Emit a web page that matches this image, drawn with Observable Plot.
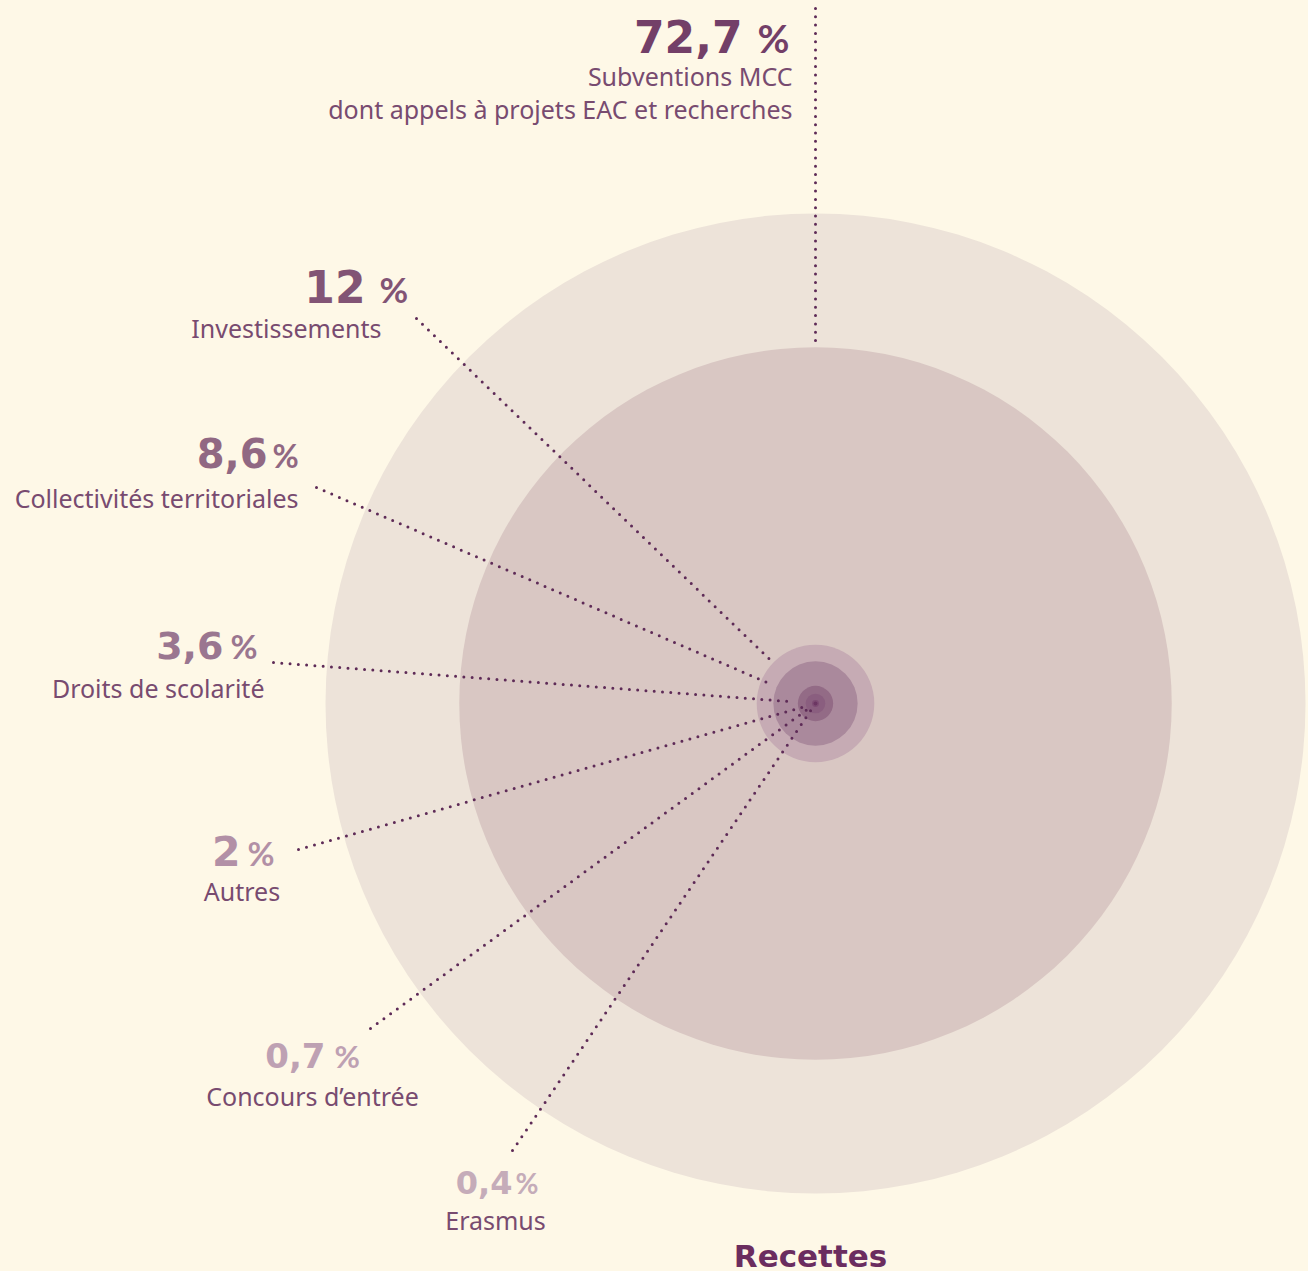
<!DOCTYPE html>
<html><head><meta charset="utf-8">
<script src="https://cdn.jsdelivr.net/npm/d3@7"></script>
<script src="https://cdn.jsdelivr.net/npm/@observablehq/plot@0.6"></script>
<style>html,body{margin:0;padding:0;background:#fef8e7;} #chart svg{display:block;}</style>
</head><body><div id="chart"></div>
<script>
// ---- data ----
const categories = ["Subventions MCC\ndont appels à projets EAC et recherches", "Investissements", "Collectivités territoriales", "Droits de scolarité", "Autres", "Concours d’entrée", "Erasmus"];
const shares = [72.7, 12, 8.6, 3.6, 2, 0.7, 0.4];
const shareLabels = ["72,7", "12", "8,6", "3,6", "2", "0,7", "0,4"];
const totalName = "Recettes";

// ---- styles / layout ----
const totalFill = "#ede3d9";
const circleFills = ["#d9c7c3", "#c6abb4", "#aa899c", "#936b86", "#8a5e7f", "#7e4c74", "#6c3663"];
const valueColors = ["#733f68", "#825475", "#916883", "#9a7690", "#b290a6", "#bea1b3", "#c5acb9"];
const valueSizes = [44, 44, 40, 38, 41, 34, 32];
const pctSizes = [39, 35, 32, 33, 33, 31, 28];
const nameColor = "#784b70";
const leaderColor = "#5e2b57";
const layout = [
  {lx: 0, ly: -695, ex: -73, px: -58, sy: -651, nx: -23, ny: -585, na: "end"},
  {lx: -399, ly: -385, ex: -450, px: -436, sy: -401, nx: -434, ny: -366, na: "end"},
  {lx: -499, ly: -216, ex: -548, px: -543, sy: -236, nx: -517, ny: -196, na: "end"},
  {lx: -542, ly: -41, ex: -592, px: -585, sy: -45, nx: -551, ny: -6, na: "end"},
  {lx: -517, ly: 146, ex: -575, px: -568, sy: 162, nx: -573.5, ny: 197, na: "middle"},
  {lx: -445, ly: 325, ex: -490, px: -481, sy: 364, nx: -503, ny: 402, na: "middle"},
  {lx: -303, ly: 447, ex: -303, px: -300, sy: 490, nx: -320, ny: 526, na: "middle"}
];

const W = 1308, H = 1271, CX = 815, CY = 703;
const rDomain = [0, 100], rRange = [0, 490];
const rPix = d3.scaleLinear(rDomain, rRange);

const rows = categories.map((name, i) => ({
  name, value: shares[i], label: shareLabels[i],
  fill: circleFills[i], vcolor: valueColors[i], fs: valueSizes[i], ps: pctSizes[i], ...layout[i]
}));
const circles = [{name: totalName, value: d3.sum(shares), fill: totalFill}, ...rows]
  .sort((a, b) => b.value - a.value);

const leaderEnd = d => {
  const a = Math.atan2(d.ly, d.lx);
  const dist = rPix(d.value) + 4;
  return [Math.cos(a) * dist, Math.sin(a) * dist];
};

const numFont = "'DejaVu Sans', sans-serif";
const pctFont = "Lato, sans-serif";
const nameFont = "'Noto Sans', 'Open Sans', sans-serif";
const nameText = (data, anchor) => Plot.text(data, {
  x: "nx", y: "ny", text: "name", textAnchor: anchor, lineAnchor: "bottom", lineHeight: 1.32,
  fontSize: 25, fill: nameColor, fontWeight: 400, fontFamily: nameFont
});

const chart = Plot.plot({
  width: W, height: H, margin: 0,
  style: {background: "#fef8e7", overflow: "visible"},
  x: {domain: [-CX, W - CX], range: [0, W], axis: null},
  y: {domain: [-CY, H - CY], range: [0, H], axis: null},
  r: {type: "linear", domain: rDomain, range: rRange},
  color: {type: "identity"},
  marks: [
    Plot.dot(circles, {x: () => 0, y: () => 0, r: "value", fill: "fill", sort: null}),
    Plot.link(rows, {
      x1: "lx", y1: "ly", x2: d => leaderEnd(d)[0], y2: d => leaderEnd(d)[1],
      stroke: leaderColor, strokeWidth: 3, strokeDasharray: "0 8.3", strokeLinecap: "round"
    }),
    Plot.text(rows, {
      x: "ex", y: "sy", text: "label", textAnchor: "end", lineAnchor: "bottom",
      fontSize: "fs", fill: "vcolor", fontWeight: 700, fontFamily: numFont
    }),
    Plot.text(rows, {
      x: "px", y: "sy", text: () => "%", textAnchor: "start", lineAnchor: "bottom",
      fontSize: "ps", fill: "vcolor", fontWeight: 700, fontFamily: pctFont
    }),
    nameText(rows.filter(d => d.na === "end"), "end"),
    nameText(rows.filter(d => d.na === "middle"), "middle"),
    Plot.text([totalName], {
      x: () => -5, y: () => 563, text: d => d, lineAnchor: "bottom",
      fontSize: 31, fill: "#6b2d5f", fontWeight: 700, fontFamily: numFont
    })
  ]
});
document.getElementById("chart").appendChild(chart);
</script>
</body></html>
